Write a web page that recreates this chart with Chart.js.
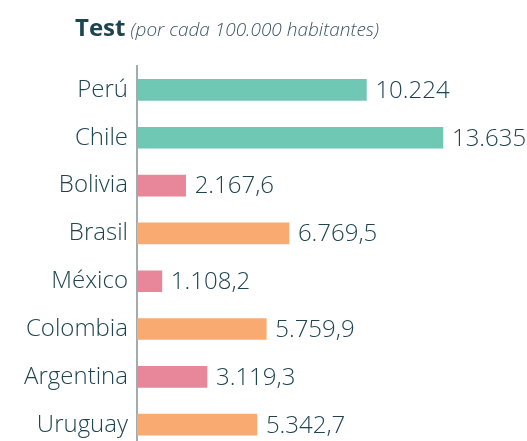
<!DOCTYPE html>
<html>
<head>
<meta charset="utf-8">
<script src="https://cdn.jsdelivr.net/npm/chart.js@4.4.0/dist/chart.umd.min.js"></script>
<style>
  html, body { margin: 0; padding: 0; background: #fff; overflow: hidden; }
  #wrap { position: relative; width: 527px; height: 441px; overflow: hidden; }
  #title { position: absolute; left: 75px; top: 10px; font-family: "Open Sans", sans-serif; color: #1e4450; white-space: nowrap; }
  #title b { font-size: 24px; font-weight: 700; }
  #title i { font-size: 19px; font-weight: 300; color: #3b5660; margin-left: 1px; }
  canvas { position: absolute; left: 0; top: 0; }
</style>
</head>
<body>
<div id="wrap">
  <canvas id="myChart1" width="527" height="472"></canvas>
  <div id="title"><b>Test</b> <i>(por cada 100.000 habitantes)</i></div>
</div>
<script>
  // Tests per 100,000 inhabitants by country
  const countries = ['Perú', 'Chile', 'Bolivia', 'Brasil', 'México', 'Colombia', 'Argentina', 'Uruguay'];
  const testValues = [10224, 13635, 2167.6, 6769.5, 1108.2, 5759.9, 3119.3, 5342.7];
  const barColors = ['#6fc8b4', '#6fc8b4', '#e8879a', '#f8aa70', '#e8879a', '#f8aa70', '#e8879a', '#f8aa70'];

  const textColor = '#1e4450';
  const labelFont = '"Open Sans", sans-serif';

  // 13635 -> "13.635", 2167.6 -> "2.167,6"
  function formatValue(v) {
    const parts = v.toFixed(v % 1 === 0 ? 0 : 1).split('.');
    const intPart = parts[0].replace(/\B(?=(\d{3})+(?!\d))/g, '.');
    return parts.length > 1 ? intPart + ',' + parts[1] : intPart;
  }

  // value text at the end of each bar
  const valueLabels = {
    id: 'valueLabels',
    afterDatasetsDraw(chart) {
      const ctx = chart.ctx;
      const meta = chart.getDatasetMeta(0);
      ctx.save();
      ctx.font = '300 24px ' + labelFont;
      ctx.fillStyle = textColor;
      ctx.textAlign = 'left';
      ctx.textBaseline = 'middle';
      meta.data.forEach((bar, i) => {
        ctx.fillText(formatValue(testValues[i]), bar.x + 9, bar.y + 1);
      });
      ctx.restore();
    }
  };

  const config1 = {
    type: 'bar',
    data: {
      labels: countries,
      datasets: [{
        data: testValues,
        backgroundColor: barColors,
        barThickness: 21,
        borderWidth: 0
      }]
    },
    options: {
      indexAxis: 'y',
      responsive: false,
      animation: false,
      layout: { padding: { top: 66, right: 31, bottom: 2, left: 0 } },
      plugins: {
        legend: { display: false },
        tooltip: { enabled: false },
        title: { display: false }
      },
      scales: {
        x: {
          display: false,
          min: 0,
          max: 16000
        },
        y: {
          afterFit(scale) { scale.width = 137; },
          grid: { display: false, drawTicks: false },
          border: { display: true, color: '#a3abad', width: 2 },
          ticks: {
            color: textColor,
            padding: 9,
            font: { family: labelFont, size: 24, weight: '300' }
          }
        }
      }
    },
    plugins: [valueLabels]
  };

  const ctx = document.getElementById('myChart1').getContext('2d');
  const myChart1 = new Chart(ctx, config1);
</script>
</body>
</html>
